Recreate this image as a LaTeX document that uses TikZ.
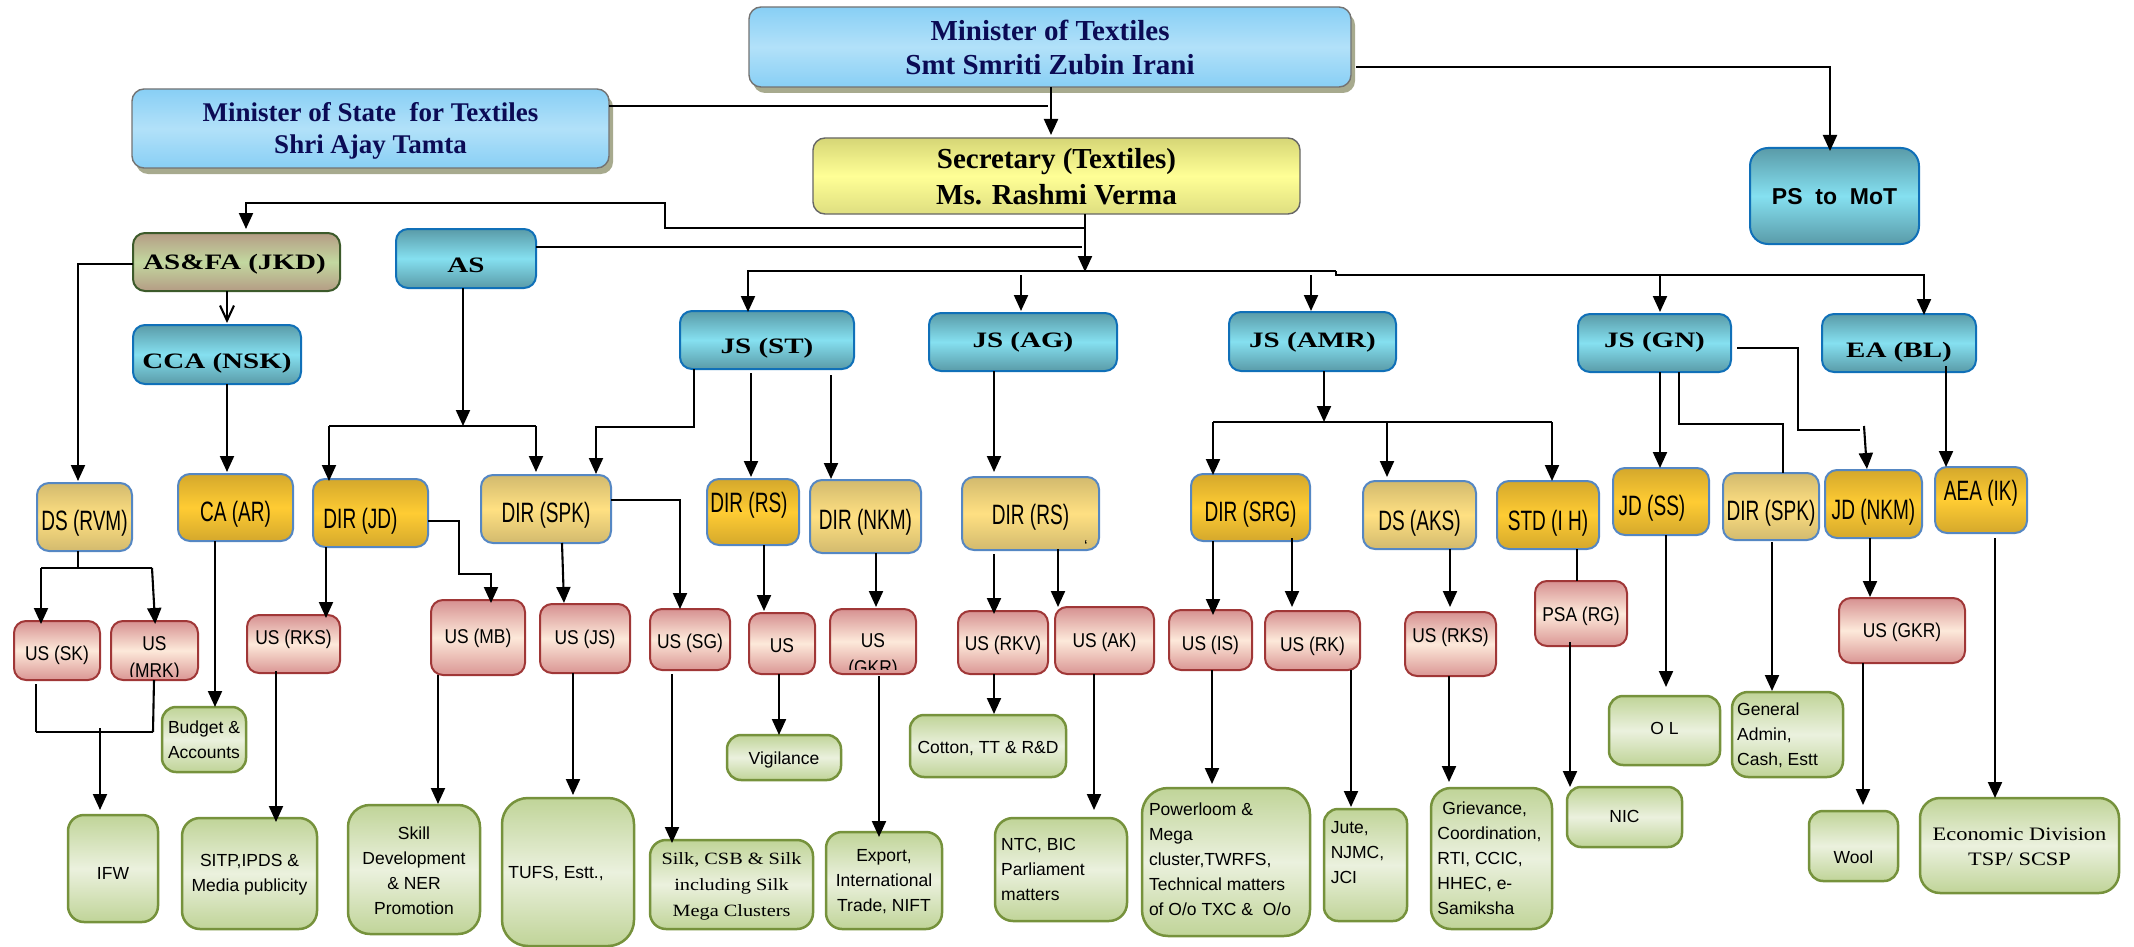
\documentclass[tikz,border=0pt]{standalone}
\usepackage{fontspec}
\usetikzlibrary{arrows.meta,shadows}
\setmainfont{Liberation Sans}
\newfontfamily\fnarrow[FakeStretch=0.68]{Liberation Sans}
\newfontfamily\fus[FakeStretch=0.87]{Liberation Sans}
\newfontfamily\ftimes{Liberation Serif}
\newfontfamily\fwide[FakeStretch=1.32]{Liberation Serif}
\newfontfamily\fwideb[FakeStretch=1.18]{Liberation Serif}
\definecolor{navytxt}{HTML}{0B0B55}
\definecolor{shadowcol}{HTML}{A7AA8E}
\tikzset{
  basebox/.style={rounded corners=12pt,inner sep=0pt,outer sep=0pt,shading=axis,anchor=center},
  bluebox/.style={basebox,draw=black!55,line width=1.4pt,top color={rgb,255:red,136;green,207;blue,245},bottom color={rgb,255:red,136;green,207;blue,245},middle color={rgb,255:red,178;green,225;blue,249},
    general shadow={fill=shadowcol,shadow xshift=4pt,shadow yshift=-6pt},text=navytxt,font=\ftimes\bfseries\fontsize{29}{34}\selectfont},
  yellowbox/.style={basebox,draw=black!60,line width=1.4pt,top color={rgb,255:red,214;green,214;blue,118},bottom color={rgb,255:red,222;green,222;blue,128},middle color={rgb,255:red,255;green,255;blue,150},font=\ftimes\bfseries\fontsize{29}{36}\selectfont},
  tealbox/.style={basebox,draw={rgb,255:red,16;green,112;blue,184},line width=2pt,top color={rgb,255:red,90;green,155;blue,168},bottom color={rgb,255:red,90;green,155;blue,168},middle color={rgb,255:red,133;green,224;blue,240},font=\fwide\bfseries\fontsize{22}{26}\selectfont},
  fabox/.style={basebox,draw={rgb,255:red,60;green,90;blue,42},line width=2pt,top color={rgb,255:red,180;green,156;blue,132},bottom color={rgb,255:red,180;green,156;blue,132},middle color={rgb,255:red,195;green,216;blue,160},font=\fwide\bfseries\fontsize{22}{26}\selectfont},
  goldbox/.style={basebox,draw={rgb,255:red,85;green,135;blue,195},line width=2pt,top color={rgb,255:red,212;green,168;blue,44},bottom color={rgb,255:red,212;green,168;blue,44},middle color={rgb,255:red,255;green,204;blue,51},font=\fnarrow\fontsize{28}{32}\selectfont},
  tanbox/.style={basebox,draw={rgb,255:red,85;green,135;blue,195},line width=2pt,top color={rgb,255:red,210;green,186;blue,110},bottom color={rgb,255:red,210;green,186;blue,110},middle color={rgb,255:red,255;green,224;blue,130},font=\fnarrow\fontsize{28}{32}\selectfont},
  redbox/.style={basebox,draw={rgb,255:red,160;green,55;blue,55},line width=2pt,top color={rgb,255:red,214;green,145;blue,145},bottom color={rgb,255:red,218;green,150;blue,148},middle color={rgb,255:red,253;green,233;blue,218},font=\fus\fontsize{20}{27}\selectfont},
  greenbox/.style={basebox,rounded corners=14pt,draw={rgb,255:red,118;green,146;blue,60},line width=2.5pt,top color={rgb,255:red,192;green,212;blue,152},bottom color={rgb,255:red,192;green,212;blue,152},middle color={rgb,255:red,235;green,241;blue,222},font=\fontsize{17.5}{25}\selectfont},
  ln/.style={draw=black,line width=2.1pt},
  arr/.style={ln,-{Triangle[length=16pt,width=14pt]}},
  openarr/.style={ln,-{Straight Barb[length=15pt,width=14pt]}},
}
\newcommand\leftlines[1]{\begin{tabular}{@{}l@{}}#1\end{tabular}}
\makeatletter
\newcommand\boxlabel[3]{\smash{\makebox[0pt]{\hspace*{#1pt}\hspace*{#1pt}\raisebox{\dimexpr -#2pt -3pt -0.58\dimexpr\f@size pt\relax +0.2\baselineskip\relax}{\begin{tabular}[c]{@{}c@{}}#3\end{tabular}}}}}
\makeatother
\newcommand\mybox[9][]{\node[#1,minimum width={(#5-#3)*1pt},minimum height={(#6-#4)*1pt}] (#2) at ({(#3+#5)/2},{(#4+#6)/2}) {\boxlabel{#7}{#8}{#9}};}
% vertical connector: style, from, x, to, gap at start, gap at end
\newcommand\vcon[6][arr]{\draw[#1,shorten <=#5pt,shorten >=#6pt] (#2.south -| #3,0) -- (#4.north -| #3,0);}
\begin{document}
\begin{tikzpicture}[x=1pt,y=-1pt]
\useasboundingbox (0,0) rectangle (2134,947);
% top
\mybox[bluebox]{min}{749}{7}{1351}{87}{0}{-3}{Minister of Textiles\\Smt Smriti Zubin Irani}
\mybox[bluebox,font=\ftimes\bfseries\fontsize{27}{32}\selectfont]{mos}{132}{89}{609}{168}{0}{-3}{Minister of State\ \ for Textiles\\Shri Ajay Tamta}
\mybox[yellowbox]{sec}{813}{138}{1300}{214}{0}{-3}{Secretary (Textiles)\\Ms. Rashmi Verma}
\mybox[tealbox,rounded corners=18pt,font=\bfseries\fontsize{23}{27}\selectfont]{ps}{1750}{148}{1919}{244}{0}{-2}{PS\ \ to\ \ MoT}
\mybox[fabox]{asfa}{133}{233}{340}{291}{-2}{-3}{AS\&FA (JKD)}
\mybox[tealbox]{as}{396}{229}{536}{288}{0}{3}{AS}
\mybox[tealbox]{cca}{133}{325}{301}{384}{0}{3}{CCA (NSK)}
\mybox[tealbox]{jsst}{680}{311}{854}{369}{0}{3}{JS (ST)}
\mybox[tealbox]{jsag}{929}{313}{1117}{371}{0}{-5}{JS (AG)}
\mybox[tealbox]{jsamr}{1229}{312}{1396}{371}{0}{-5}{JS (AMR)}
\mybox[tealbox]{jsgn}{1578}{314}{1731}{372}{0}{-6}{JS (GN)}
\mybox[tealbox]{ea}{1822}{314}{1976}{372}{0}{4}{EA (BL)}
% directors
\mybox[tanbox]{dsrvm}{37}{483}{132}{551}{0}{0}{DS (RVM)}
\mybox[goldbox]{caar}{178}{474}{293}{541}{0}{1}{CA (AR)}
\mybox[goldbox]{dirjd}{313}{479}{428}{547}{-10}{2}{DIR (JD)}
\mybox[tanbox]{dirspk}{481}{475}{611}{543}{0}{0}{DIR (SPK)}
\mybox[goldbox]{dirrsa}{707}{479}{799}{545}{-4}{-13}{DIR (RS)}
\mybox[tanbox]{dirnkm}{810}{480}{921}{553}{0}{0}{DIR (NKM)}
\mybox[tanbox]{dirrsb}{962}{477}{1099}{550}{0}{-2}{DIR (RS)}
\mybox[goldbox]{dirsrg}{1191}{474}{1310}{541}{0}{1}{DIR (SRG)}
\mybox[tanbox]{dsaks}{1363}{481}{1476}{549}{0}{2}{DS (AKS)}
\mybox[goldbox]{stdih}{1497}{481}{1599}{549}{0}{2}{STD (I H)}
\mybox[goldbox]{jdss}{1613}{468}{1709}{535}{-9}{1}{JD (SS)}
\mybox[tanbox]{dirspkb}{1723}{473}{1819}{540}{0}{1}{DIR (SPK)}
\mybox[goldbox]{jdnkm}{1825}{470}{1922}{538}{0}{2}{JD (NKM)}
\mybox[goldbox]{aeaik}{1935}{467}{2027}{533}{0}{-13}{AEA (IK)}
\node (tick) at (1086,546) {\fontsize{16}{16}\selectfont\char"60};
% under secretaries
\mybox[redbox]{ussk}{14}{621}{100}{680}{0}{1}{US (SK)}
\mybox[redbox]{usmrk}{111}{621}{198}{680}{0}{0}{}
\begin{scope}
\clip (105,625) rectangle (204,676);
\node[font=\fus\fontsize{20}{27}\selectfont,align=center,inner sep=0pt] (usmrktext) at (154.5,659.5) {US\\(MRK)};
\end{scope}
\mybox[redbox]{usrks}{247}{615}{340}{673}{0}{-9}{US (RKS)}
\mybox[redbox]{usmb}{431}{600}{525}{675}{0}{-3}{US (MB)}
\mybox[redbox]{usjs}{540}{604}{630}{673}{0}{-3}{US (JS)}
\mybox[redbox]{ussg}{650}{609}{730}{670}{0}{0}{US (SG)}
\mybox[redbox]{usv}{749}{613}{815}{674}{0}{0}{US}
\mybox[redbox]{usgkr}{830}{609}{916}{674}{0}{0}{}
\begin{scope}
\clip (825,612) rectangle (921,669);
\node[font=\fus\fontsize{20}{27}\selectfont,align=center,inner sep=0pt] (usgkrtext) at (873,656) {US\\(GKR)};
\end{scope}
\mybox[redbox]{usrkv}{958}{611}{1048}{674}{0}{-1}{US (RKV)}
\mybox[redbox]{usak}{1055}{607}{1154}{674}{0}{-2}{US (AK)}
\mybox[redbox]{usis}{1169}{610}{1252}{670}{0}{1}{US (IS)}
\mybox[redbox]{usrk}{1265}{611}{1360}{670}{0}{2}{US (RK)}
\mybox[redbox]{usrksb}{1405}{612}{1496}{676}{0}{-11}{US (RKS)}
\mybox[redbox]{psa}{1535}{581}{1627}{646}{0}{-1}{PSA (RG)}
\mybox[redbox]{usgkrb}{1839}{598}{1965}{663}{0}{-2}{US (GKR)}
% divisions
\mybox[greenbox]{budget}{162}{707}{246}{772}{0}{-2}{Budget \&\\Accounts}
\mybox[greenbox]{vig}{727}{735}{841}{780}{0}{-2}{Vigilance}
\mybox[greenbox]{cotton}{910}{715}{1066}{777}{0}{-1}{Cotton, TT \& R\&D}
\mybox[greenbox,rounded corners=16pt]{ifw}{68}{815}{158}{922}{0}{2}{IFW}
\mybox[greenbox,rounded corners=18pt]{sitp}{182}{818}{317}{929}{0}{-3}{SITP,IPDS \&\\Media publicity}
\mybox[greenbox,rounded corners=22pt]{skill}{348}{805}{480}{934}{0}{-1}{Skill\\Development\\\& NER\\Promotion}
\mybox[greenbox,rounded corners=26pt]{tufs}{502}{798}{634}{946}{-12}{-2}{TUFS, Estt.,}
\mybox[greenbox,rounded corners=16pt,font=\fwideb\fontsize{17.2}{26}\selectfont]{silk}{650}{840}{813}{929}{0}{-3}{Silk, CSB \& Silk\\including Silk\\Mega Clusters}
\mybox[greenbox,rounded corners=16pt]{export}{826}{832}{942}{929}{0}{-3}{Export,\\International\\Trade, NIFT}
\mybox[greenbox,rounded corners=18pt]{ntc}{995}{818}{1127}{921}{-18}{-3}{\leftlines{NTC, BIC\\Parliament\\matters}}
\mybox[greenbox,rounded corners=26pt]{power}{1142}{788}{1310}{936}{-6}{-5}{\leftlines{Powerloom \&\\Mega\\cluster,TWRFS,\\Technical matters\\of O/o TXC \&\ \ O/o}}
\mybox[greenbox,rounded corners=14pt]{jute}{1324}{809}{1407}{921}{-8}{-15}{\leftlines{Jute,\\NJMC,\\JCI}}
\mybox[greenbox,rounded corners=20pt]{griev}{1431}{788}{1552}{929}{-2}{-3}{\leftlines{\hspace*{5pt}Grievance,\\Coordination,\\RTI, CCIC,\\HHEC, e-\\Samiksha}}
\mybox[greenbox]{nic}{1567}{787}{1682}{847}{0}{-3}{NIC}
\mybox[greenbox]{ol}{1609}{696}{1720}{765}{0}{-5}{O L}
\mybox[greenbox,rounded corners=16pt]{general}{1732}{692}{1843}{777}{-10}{-3}{\leftlines{General\\Admin,\\Cash, Estt}}
\mybox[greenbox]{wool}{1809}{811}{1898}{881}{0}{9}{Wool}
\mybox[greenbox,rounded corners=20pt,font=\fwideb\fontsize{19}{25}\selectfont]{econ}{1920}{798}{2119}{893}{0}{-2}{Economic Division\\TSP/ SCSP}
% named junctions
\coordinate (jm) at (1048,106);
\coordinate (b1) at (1085,271);
\coordinate (busL) at (748,271);
\coordinate (busA) at (1336,271);
\coordinate (busB) at (1336,275);
\coordinate (busR) at (1924,275);
\coordinate (tag) at (1021,275);
\coordinate (tamr) at (1311,275);
\coordinate (tgn) at (1660,275);
\coordinate (fa1) at (1085,228);
\coordinate (fa2) at (665,228);
\coordinate (fa3) at (665,203);
\coordinate (fa4) at (246,203);
\coordinate (asend) at (1082,247);
\coordinate (j1) at (463,426);
\coordinate (j1L) at (329,426);
\coordinate (j1R) at (536,426);
\coordinate (st1) at (694,427);
\coordinate (st2) at (596,427);
\coordinate (am) at (1324,422);
\coordinate (amL) at (1213,422);
\coordinate (amM) at (1387,422);
\coordinate (amR) at (1552,422);
\coordinate (gn1) at (1679,424);
\coordinate (gn2) at (1783,424);
\coordinate (gn3) at (1737,348);
\coordinate (gn4) at (1798,348);
\coordinate (gn5) at (1798,430);
\coordinate (gn6) at (1860,430);
\coordinate (gn7) at (1864,426);
\coordinate (ds1) at (78,568);
\coordinate (dsL) at (41,568);
\coordinate (dsR) at (152,568);
\coordinate (ifL) at (36,732);
\coordinate (ifR) at (153,732);
\coordinate (ifT) at (100,728);
\coordinate (jd1) at (459,521);
\coordinate (jd2) at (459,574);
\coordinate (jd3) at (491,574);
\coordinate (spk1) at (680,500);
% top connectors
\vcon{min}{1051}{sec}{0}{3}
\draw[ln] (mos.east |- jm) -- (jm);
\draw[arr,shorten >=-3pt] (1356,67) -- (1830,67) -- (1830,0 |- ps.north);
\draw[arr,shorten >=-1pt] (sec.south -| b1) -- (b1);
\draw[arr,shorten >=-1pt] (busA) -- (busL) -- (busL |- jsst.north);
\draw[arr,shorten >=-1pt] (busA) -- (busB) -- (busR) -- (busR |- ea.north);
\draw[arr,shorten >=2pt] (tag) -- (tag |- jsag.north);
\draw[arr,shorten >=1pt] (tamr) -- (tamr |- jsamr.north);
\draw[arr,shorten >=2pt] (tgn) -- (tgn |- jsgn.north);
\draw[arr,shorten >=4pt] (fa1) -- (fa2) -- (fa3) -- (fa4) -- (fa4 |- asfa.north);
\draw[ln] (as.east |- asend) -- (asend);
\vcon[openarr]{asfa}{227}{cca}{0}{2}
\draw[arr,shorten >=2pt] (asfa.west |- 0,264) -- (78,264) -- (78,0 |- dsrvm.north);
\vcon{cca}{227}{caar}{0}{2}
\draw[arr] (as.south -| j1) -- (j1);
\draw[ln] (j1L) -- (j1R);
\draw[arr,shorten >=-2pt] (j1L) -- (j1L |- dirjd.north);
\draw[arr,shorten >=3pt] (j1R) -- (j1R |- dirspk.north);
\draw[arr,shorten >=1pt] (jsst.south -| st1) -- (st1) -- (st2) -- (st2 |- dirspk.north);
\vcon{jsst}{751}{dirrsa}{4}{2}
\vcon{jsst}{831}{dirnkm}{6}{1}
\vcon{jsag}{994}{dirrsb}{0}{5}
\draw[arr] (jsamr.south -| am) -- (am);
\draw[ln] (amL) -- (amR);
\draw[arr,shorten >=-1pt] (amL) -- (amL |- dirsrg.north);
\draw[arr,shorten >=4pt] (amM) -- (amM |- dsaks.north);
\draw[arr] (amR) -- (amR |- stdih.north);
\vcon{jsgn}{1660}{jdss}{0}{0}
\draw[ln] (jsgn.south -| gn1) -- (gn1) -- (gn2) -- (gn2 |- dirspkb.north);
\draw[ln] (gn3) -- (gn4) -- (gn5) -- (gn6);
\draw[arr,shorten >=1pt] (gn7) -- (jdnkm.north -| 1867,0);
\vcon{ea}{1946}{aeaik}{-6}{0}
% director connectors
\draw[ln] (dsrvm.south -| ds1) -- (ds1);
\draw[ln] (dsL) -- (dsR);
\draw[arr,shorten >=-3pt] (dsL) -- (dsL |- ussk.north);
\draw[arr,shorten >=-3pt] (dsR) -- (155,0 |- usmrk.north);
\vcon{caar}{215}{budget}{0}{0}
\vcon{dirjd}{326}{usrks}{0}{-3}
\draw[arr,shorten >=-3pt] (dirjd.east |- jd1) -- (jd1) -- (jd2) -- (jd3) -- (jd3 |- usmb.north);
\draw[arr,shorten >=1pt] (562,0 |- dirspk.south) -- (564,0 |- usjs.north);
\draw[arr] (dirspk.east |- spk1) -- (spk1) -- (spk1 |- ussg.north);
\vcon{dirrsa}{764}{usv}{0}{2}
\vcon{dirnkm}{876}{usgkr}{0}{2}
\vcon{dirrsb}{994}{usrkv}{4}{-3}
\vcon{dirrsb}{1058}{usak}{-1}{0}
\vcon{dirsrg}{1213}{usis}{0}{-5}
\vcon{dirsrg}{1292}{usrk}{-3}{4}
\vcon{dsaks}{1450}{usrksb}{0}{5}
\vcon[ln]{stdih}{1577}{psa}{0}{0}
\vcon{jdss}{1666}{ol}{0}{9}
\vcon{dirspkb}{1772}{general}{2}{1}
\vcon{jdnkm}{1870}{usgkrb}{0}{1}
\vcon{aeaik}{1995}{econ}{5}{0}
% to divisions
\draw[ln] (36,0 |- ussk.south) ++(0,4) -- (ifL);
\draw[ln] (154,0 |- usmrk.south) -- (ifR);
\draw[ln] (ifL) -- (ifR);
\draw[arr,shorten >=5pt] (ifT) -- (ifT |- ifw.north);
\vcon{usrks}{276}{sitp}{-2}{-4}
\vcon{usmb}{438}{skill}{0}{1}
\vcon{usjs}{573}{tufs}{0}{3}
\vcon{ussg}{672}{silk}{4}{-3}
\vcon{usv}{779}{vig}{0}{0}
\vcon{usgkr}{879}{export}{2}{-5}
\vcon{usrkv}{994}{cotton}{0}{1}
\vcon{usak}{1094}{ntc}{0}{8}
\vcon{usis}{1212}{power}{0}{4}
\vcon{usrk}{1351}{jute}{0}{2}
\vcon{usrksb}{1449}{griev}{0}{6}
\vcon{psa}{1570}{nic}{-4}{0}
\vcon{usgkrb}{1863}{wool}{0}{6}
\end{tikzpicture}
\end{document}
